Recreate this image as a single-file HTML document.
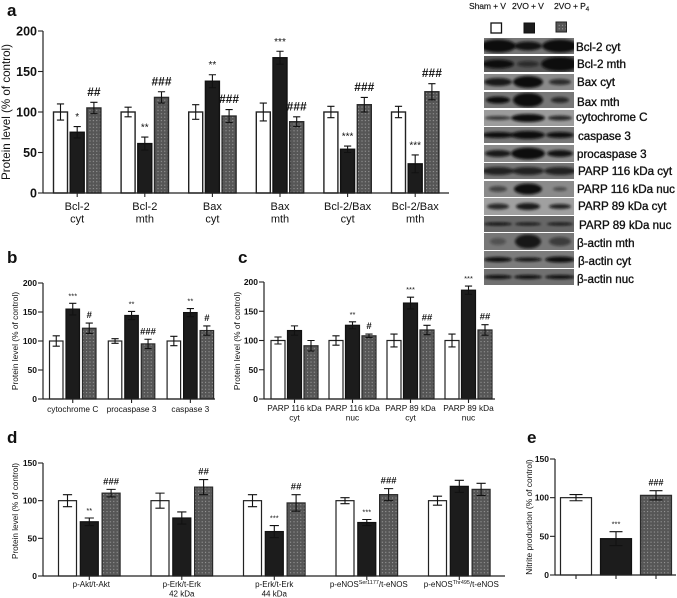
<!DOCTYPE html>
<html>
<head>
<meta charset="utf-8">
<style>
html,body{margin:0;padding:0;background:#fff;width:677px;height:598px;overflow:hidden}
#figure{display:block;filter:blur(0.35px)}
text{font-family:"Liberation Sans",sans-serif;fill:#111}
.blotlabel{font-size:11.6px;stroke:#111;stroke-width:.35px}
.letter{font-size:17px;font-weight:bold}
.head{font-size:8.6px;letter-spacing:-.15px;stroke:#111;stroke-width:.15px}
</style>
</head>
<body>
<svg id="figure" width="677" height="598" viewBox="0 0 677 598" xmlns="http://www.w3.org/2000/svg">
<defs>
<pattern id="dots" width="3.4" height="3.4" patternUnits="userSpaceOnUse">
<rect width="3.4" height="3.4" fill="#565656"></rect>
<circle cx="1.6" cy="1.6" r=".55" fill="#b4b4b4"></circle>
</pattern>
<filter id="bandblur" x="-30%" y="-60%" width="160%" height="220%"><feGaussianBlur stdDeviation="1.3"></feGaussianBlur></filter>
</defs>

<text class="letter" x="7" y="16">a</text>
<text class="letter" x="7" y="263">b</text>
<text class="letter" x="238" y="263">c</text>
<text class="letter" x="7" y="443">d</text>
<text class="letter" x="527" y="443">e</text>

<text class="head" x="469" y="9">Sham + V</text>
<text class="head" x="512" y="9">2VO + V</text>
<text class="head" x="554" y="9">2VO + P<tspan font-size="6.5" dy="2">4</tspan></text>
<rect x="491" y="23" width="10.5" height="10" fill="#fff" stroke="#111" stroke-width="1.3"></rect>
<rect x="524" y="23" width="10.5" height="10" fill="#1c1c1c" stroke="#111" stroke-width="1"></rect>
<rect x="556" y="22" width="10.5" height="10" fill="url(#dots)" stroke="#222" stroke-width="1"></rect>

<g id="blots"></g>

<text class="blotlabel" x="576" y="51">Bcl-2 cyt</text>
<text class="blotlabel" x="577" y="68">Bcl-2 mth</text>
<text class="blotlabel" x="577" y="86">Bax cyt</text>
<text class="blotlabel" x="577" y="106">Bax mth</text>
<text class="blotlabel" x="576" y="121">cytochrome C</text>
<text class="blotlabel" x="578" y="140">caspase 3</text>
<text class="blotlabel" x="577" y="158">procaspase 3</text>
<text class="blotlabel" x="578" y="175">PARP 116 kDa cyt</text>
<text class="blotlabel" x="577" y="193">PARP 116 kDa nuc</text>
<text class="blotlabel" x="578" y="210">PARP 89 kDa cyt</text>
<text class="blotlabel" x="579" y="229">PARP 89 kDa nuc</text>
<text class="blotlabel" x="577" y="247">β-actin mth</text>
<text class="blotlabel" x="578" y="265">β-actin cyt</text>
<text class="blotlabel" x="577" y="283">β-actin nuc</text>
</svg>

<script>
// Panel a data
const aCategories = [["Bcl-2","cyt"],["Bcl-2","mth"],["Bax","cyt"],["Bax","mth"],["Bcl-2/Bax","cyt"],["Bcl-2/Bax","mth"]];
const aSham = [100,100,100,100,100,100];
const aSham_err = [10,6,9,11,7,7];
const aVehicle = [75,61,138,167,54,36];
const aVehicle_err = [7,8,8,8,4,11];
const aP4 = [105,118,95,88,109,125];
const aP4_err = [7,7,8,6,9,10];
const aVehicleMarks = ["*","**","**","***","***","***"];
const aP4Marks = ["##","###","###","###","###","###"];
const aTicks = [0,50,100,150,200];

// Panel b data
const bCategories = [["cytochrome C"],["procaspase 3"],["caspase 3"]];
const bSham = [100,100,100];
const bSham_err = [9,4,8];
const bVehicle = [155,144,149];
const bVehicle_err = [10,7,7];
const bP4 = [122,95,118];
const bP4_err = [9,8,8];
const bVehicleMarks = ["***","**","**"];
const bP4Marks = ["#","###","#"];
const bTicks = [0,50,100,150,200];

// Panel c data
const cCategories = [["PARP 116 kDa","cyt"],["PARP 116 kDa","nuc"],["PARP 89 kDa","cyt"],["PARP 89 kDa","nuc"]];
const cSham = [100,100,100,100];
const cSham_err = [6,8,11,11];
const cVehicle = [117,126,164,186];
const cVehicle_err = [8,6,10,7];
const cP4 = [91,108,118,118];
const cP4_err = [9,3,8,9];
const cVehicleMarks = ["","**","***","***"];
const cP4Marks = ["","#","##","##"];
const cTicks = [0,50,100,150,200];

// Panel d data
const dCategories = [["p-Akt/t-Akt"],["p-Erk/t-Erk","42 kDa"],["p-Erk/t-Erk","44 kDa"],["p-eNOS^Ser1177^/t-eNOS"],["p-eNOS^Thr495^/t-eNOS"]];
const dSham = [100,100,100,100,100];
const dSham_err = [8,10,8,4,6];
const dVehicle = [72,77,59,71,119];
const dVehicle_err = [5,8,8,4,8];
const dP4 = [110,118,97,108,115];
const dP4_err = [5,10,11,8,8];
const dVehicleMarks = ["**","","***","***",""];
const dP4Marks = ["###","##","##","###",""];
const dTicks = [0,50,100,150];

// Panel e data
const eSham = [100];
const eSham_err = [4];
const eVehicle = [47];
const eVehicle_err = [9];
const eP4 = [103];
const eP4_err = [6];
const eVehicleMarks = ["***"];
const eP4Marks = ["###"];
const eTicks = [0,50,100,150];

// Blot data: lane band [width, height, darkness]
const blotLabels = ["Bcl-2 cyt","Bcl-2 mth","Bax cyt","Bax mth","cytochrome C","caspase 3","procaspase 3","PARP 116 kDa cyt","PARP 116 kDa nuc","PARP 89 kDa cyt","PARP 89 kDa nuc","β-actin mth","β-actin cyt","β-actin nuc"];
const blotTops = [38,56,74,92,110,127,145,163,181,198,216,233,251,269];
const blotHeights = [16,16,16,16,16,16,17,16,16,17,16,17,17,16];
const blotShades = ["#777","#585858","#8a8a8a","#777","#9c9c9c","#777","#8a8a8a","#777","#8a8a8a","#a0a0a0","#666","#777","#7c7c7c","#707070"];
const blotBands = [
  [[36,13,1],[28,9,.95],[36,13,1]],
  [[32,9,1],[22,6,.6],[38,14,1]],
  [[28,8,.9],[30,12,1],[22,6,.75]],
  [[24,7,1],[30,14,1],[18,6,.75]],
  [[26,4,.7],[34,8,1],[24,5,.8]],
  [[32,6,1],[34,8,1],[28,6,1]],
  [[26,7,.9],[34,12,1],[26,7,.95]],
  [[32,8,.8],[32,8,.8],[32,8,.8]],
  [[18,6,.55],[28,11,1],[14,4,.5]],
  [[22,6,.8],[24,7,.9],[22,5,.85]],
  [[28,3,1],[26,3,.9],[26,3,.9]],
  [[16,7,.35],[26,14,.9],[22,9,.55]],
  [[28,5,1],[28,4,.95],[30,6,1]],
  [[28,4,1],[28,4,1],[30,4,1]]
];
const blotLanes = [498,528,560];

const SVGNS = "http://www.w3.org/2000/svg";
const fig = document.getElementById("figure");

function make(tag, attrs, parent) {
  const el = document.createElementNS(SVGNS, tag);
  for (const k in attrs) el.setAttribute(k, attrs[k]);
  parent.appendChild(el);
  return el;
}

function drawBlots() {
  const host = document.getElementById("blots");
  blotTops.forEach(function (top, i) {
    const rowLeft = 484, rowWidth = 90;
    const row = make("svg", {x:rowLeft, y:top, width:rowWidth, height:blotHeights[i], overflow:"hidden"}, host);
    
    
    make("rect", {x:0, y:0, width:rowWidth, height:blotHeights[i], fill:blotShades[i]}, row);
    blotBands[i].forEach(function (b, j) {
      make("ellipse", {cx:blotLanes[j] - rowLeft, cy:blotHeights[i]/2, rx:b[0]/2, ry:b[1]/2, fill:"#0a0a0a", opacity:b[2], filter:"url(#bandblur)"}, row);
    });
  });
}

function addLabelLine(parent, line, x, y, size) {
  const t = make("text", {x:x, y:y, "text-anchor":"middle", "font-size":size}, parent);
  line.split("^").forEach(function (part, i) {
    const s = make("tspan", {}, t);
    if (i === 1) { s.setAttribute("font-size", size * .68); s.setAttribute("dy", -3); }
    if (i === 2) { s.setAttribute("dy", 3); }
    s.textContent = part;
  });
  
  
}

function drawPanel(p) {
  const g = make("g", {}, fig);
  
  

  const yScale = function (v) { return p.y0 - v * (p.y0 - p.yTop) / p.yMax; };
  const barX = function (group, series) { return p.left + p.pitch * group + p.step * series; };

  const seriesList = [
    {values:p.sham, err:p.shamErr, fill:"#fff", stroke:"#222", id:"sham", marks:null},
    {values:p.veh, err:p.vehErr, fill:"#1c1c1c", stroke:"#111", id:"2vo", marks:p.vehMarks},
    {values:p.p4, err:p.p4Err, fill:"url(#dots)", stroke:"#2a2a2a", id:"2vo-p4", marks:p.p4Marks}
  ];

  seriesList.forEach(function (s, si) {
    s.values.forEach(function (v, i) {
      const x = barX(i, si), top = yScale(v);
      const bar = make("rect", {x:x, y:top, width:p.barW, height:p.y0 - top, fill:s.fill, stroke:s.stroke, "stroke-width":p.barStroke}, g);
      
      

      const cx = x + p.barW / 2;
      const hi = yScale(v + s.err[i]), lo = yScale(v - s.err[i]);
      const eb = make("path", {d:"M"+(cx-p.cap)+" "+hi+"H"+(cx+p.cap)+"M"+cx+" "+hi+"V"+lo+"M"+(cx-p.cap)+" "+lo+"H"+(cx+p.cap), fill:"none", stroke:"#111", "stroke-width":1.1}, g);
      
      

      if (s.marks && s.marks[i]) {
        const isHash = s.marks[i].charAt(0) === "#";
        const m = make("text", {x:cx, y:hi - p.markGap, "text-anchor":"middle", "font-size":isHash ? p.hashSize : p.starSize, "font-weight":isHash ? "bold" : "normal"}, g);
        m.textContent = s.marks[i];
        
        
      }
    });
  });

  const xAxis = make("path", {d:"M"+p.axisX+" "+p.y0+"H"+p.axisEnd, stroke:"#222", "stroke-width":1.2, fill:"none"}, g);
  
  
  const yAxis = make("path", {d:"M"+p.axisX+" "+p.yTop+"V"+p.y0, stroke:"#222", "stroke-width":1.2, fill:"none"}, g);
  
  

  p.ticks.forEach(function (t) {
    const y = yScale(t);
    make("path", {d:"M"+(p.axisX-5)+" "+y+"H"+p.axisX, stroke:"#222", "stroke-width":1.1}, g);
    const lab = make("text", {x:p.axisX-6, y:y + p.tickSize*.36, "text-anchor":"end", "font-size":p.tickSize, "font-weight":"bold"}, g);
    lab.textContent = t;
    
    
  });

  const groupCount = p.sham.length;
  if (p.perBarTicks) {
    seriesList.forEach(function (s, si) {
      const cx = barX(0, si) + p.barW / 2;
      make("path", {d:"M"+cx+" "+p.y0+"V"+(p.y0+4), stroke:"#222", "stroke-width":1.1}, g);
    });
  } else {
    for (let i = 0; i < groupCount; i++) {
      const cx = barX(i, 1) + p.barW / 2;
      make("path", {d:"M"+cx+" "+p.y0+"V"+(p.y0+4), stroke:"#222", "stroke-width":1.1}, g);
      (p.cats[i] || []).forEach(function (line, li) {
        addLabelLine(g, line, cx + (p.labelShift ? p.labelShift[i] : 0), p.labelY + li * p.labelLead, p.labelSize);
      });
    }
  }

  const title = make("text", {transform:"translate("+p.titleX+" "+p.titleY+") rotate(-90)", "text-anchor":"middle", "font-size":p.titleSize}, g);
  title.textContent = p.title;
  
  
}

drawBlots();

drawPanel({name:"chart-a", cats:aCategories, sham:aSham, shamErr:aSham_err, veh:aVehicle, vehErr:aVehicle_err, p4:aP4, p4Err:aP4_err, vehMarks:aVehicleMarks, p4Marks:aP4Marks, ticks:aTicks,
  yMax:200, y0:193, yTop:31, axisX:43, axisEnd:449, left:53.5, pitch:67.6, step:16.7, barW:14, barStroke:1.4, cap:3.6, markGap:6.5, hashSize:12, starSize:10,
  tickSize:12.5, labelY:210, labelLead:12.5, labelSize:11, title:"Protein level (% of control)", titleX:10, titleY:112, titleSize:11.6});

drawPanel({name:"chart-b", cats:bCategories, sham:bSham, shamErr:bSham_err, veh:bVehicle, vehErr:bVehicle_err, p4:bP4, p4Err:bP4_err, vehMarks:bVehicleMarks, p4Marks:bP4Marks, ticks:bTicks,
  yMax:200, y0:399, yTop:283, axisX:43, axisEnd:215, left:49.5, pitch:58.8, step:16.5, barW:13.5, barStroke:1.2, cap:3.6, markGap:5, hashSize:9.5, starSize:7.5,
  tickSize:8.5, labelY:412, labelLead:10, labelSize:8.3, title:"Protein level (% of control)", titleX:18, titleY:341, titleSize:8.4});

drawPanel({name:"chart-c", cats:cCategories, sham:cSham, shamErr:cSham_err, veh:cVehicle, vehErr:cVehicle_err, p4:cP4, p4Err:cP4_err, vehMarks:cVehicleMarks, p4Marks:cP4Marks, ticks:cTicks,
  yMax:200, y0:399, yTop:282, axisX:264, axisEnd:495, left:271, pitch:58, step:16.5, barW:14, barStroke:1.2, cap:3.6, markGap:5, hashSize:9.5, starSize:7.5,
  tickSize:8.5, labelY:411, labelLead:9.5, labelSize:8.3, title:"Protein level (% of control)", titleX:240, titleY:341, titleSize:8.4});

drawPanel({name:"chart-d", cats:dCategories, sham:dSham, shamErr:dSham_err, veh:dVehicle, vehErr:dVehicle_err, p4:dP4, p4Err:dP4_err, vehMarks:dVehicleMarks, p4Marks:dP4Marks, ticks:dTicks,
  yMax:150, y0:576, yTop:463, axisX:43, axisEnd:505, left:58.5, pitch:92.5, step:21.8, barW:18, barStroke:1.2, cap:4.6, markGap:5, hashSize:9.5, starSize:7.5,
  tickSize:8.5, labelY:587, labelLead:9.5, labelSize:8, labelShift:[2,0,0,2,2], title:"Protein level (% of control)", titleX:18, titleY:511, titleSize:8.2});

drawPanel({name:"chart-e", cats:[], perBarTicks:true, sham:eSham, shamErr:eSham_err, veh:eVehicle, vehErr:eVehicle_err, p4:eP4, p4Err:eP4_err, vehMarks:eVehicleMarks, p4Marks:eP4Marks, ticks:eTicks,
  yMax:150, y0:575, yTop:459, axisX:555, axisEnd:676, left:560.5, pitch:0, step:40, barW:31, barStroke:1.2, cap:6.5, markGap:5, hashSize:9, starSize:7.5,
  tickSize:8.5, labelY:587, labelLead:10, labelSize:8, title:"Nitrite production (% of control)", titleX:532, titleY:517, titleSize:8.4});
</script>
</body>
</html>
